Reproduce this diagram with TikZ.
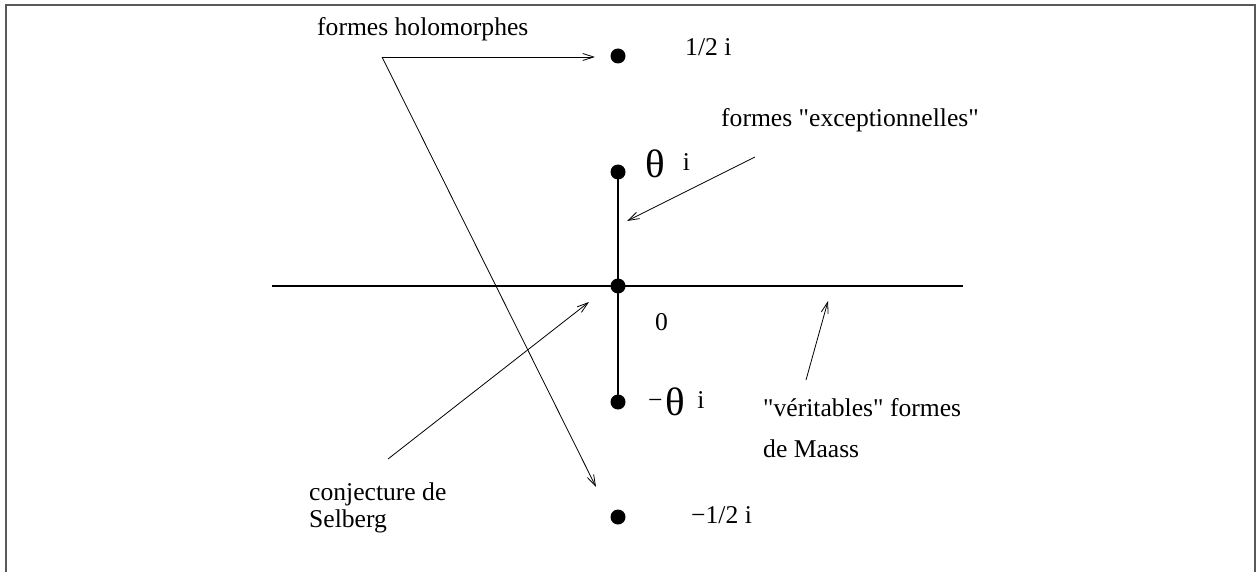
\documentclass[tikz,border=0pt]{standalone}
\usepackage{fontspec}
\setmainfont{Liberation Serif}
\usetikzlibrary{arrows.meta}
\newcommand\bigth{\raisebox{-7pt}{\scalebox{1.6}[1.55]{θ}}}
\begin{document}
\begin{tikzpicture}[x=1pt,y=-1pt,
 lbl/.style={anchor=base west,inner sep=0pt,font=\fontsize{25.6}{27}\selectfont,align=left},
 dot/.style={circle,fill=black,inner sep=0pt,minimum size=15pt},
 axisline/.style={line width=2.6pt},
 ptr/.style={line width=0.8pt,-{Straight Barb[length=11pt,width=7pt]}},
 frameline/.style={draw=black!65,line width=1.6pt}]
\useasboundingbox (0,0) rectangle (1257,572);
\draw[frameline] (6,575)--(6,5)--(1255,5)--(1255,575);
% axes
\coordinate (L) at (272,286);
\coordinate (R) at (963,286);
\draw[axisline] (L)--(R);
\node[dot] (top) at (618,56) {};
\node[dot] (th) at (618,172) {};
\node[dot] (o) at (618,286) {};
\node[dot] (mth) at (618,402) {};
\node[dot] (bot) at (618,517) {};
\draw[axisline] (th.center)--(mth.center);
% labels
\node[lbl] (l12) at (685,56) {1/2 i};
\node[lbl] (lth) at (645,171) {\bigth\hspace{18pt}i};
\node[lbl] (l0) at (655,330) {0};
\node[lbl] (lmth) at (648,408) {−\hspace{3pt}\bigth\hspace{12pt}i};
\node[lbl] (lm12) at (691,523) {−1/2 i};
\node[lbl] (hol) at (317,36) {formes holomorphes};
\node[lbl] (exc) at (721,127) {formes \textquotedbl exceptionnelles\textquotedbl};
\node[lbl] (sel) at (309,527) {conjecture de\\Selberg};
\node[lbl] (maa) at (763,457) {\textquotedbl véritables\textquotedbl{} formes\\[14pt]de Maass};
% connectors
\coordinate (hc) at (382,57);
\coordinate (t1) at (595,57);
\coordinate (t2) at (596,487);
\draw[ptr] (hc) -- (t1);
\draw[ptr] (hc) -- (t2);
\coordinate (e0) at (755,157);
\coordinate (e1) at (627,221);
\draw[ptr] (e0) -- (e1);
\coordinate (s0) at (388,459);
\coordinate (s1) at (589,302);
\draw[ptr] (s0) -- (s1);
\coordinate (m0) at (806,380);
\coordinate (m1) at (828,301);
\draw[ptr] (m0) -- (m1);
\end{tikzpicture}
\end{document}
